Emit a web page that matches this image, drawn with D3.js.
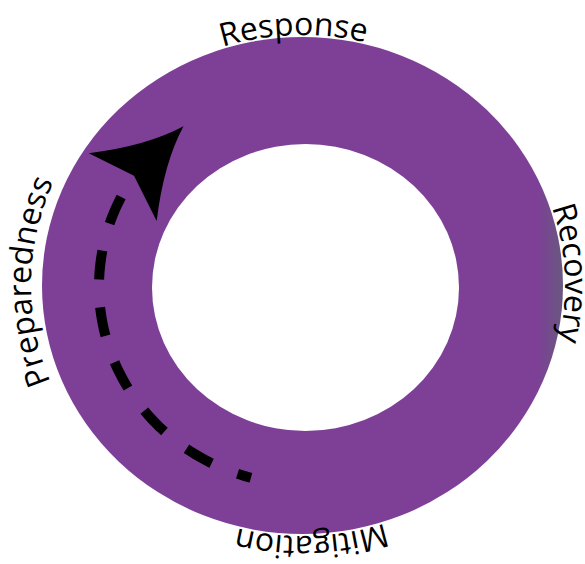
<!DOCTYPE html>
<html>
<head>
<meta charset="utf-8">
<script src="https://cdn.jsdelivr.net/npm/d3@7"></script>
<style>
  html, body { margin: 0; padding: 0; background: #fff; overflow: hidden; }
  svg { display: block; }
</style>
</head>
<body>
<script>
// stages of the cycle, clockwise from the top
const stages = ['Response', 'Recovery', 'Mitigation', 'Preparedness'];
// direction of travel shown by the dashed arrow
const arrowStages = ['Mitigation', 'Preparedness'];

// container
const width = 585;
const height = 564;

let svg = d3.select('body')
    .append('svg')
    .attr('width', width)
    .attr('height', height);

// ring geometry
const outer = { cx: 302.5, cy: 285.5, rx: 260.5, ry: 248.5 };
const inner = { cx: 305.5, cy: 287.5, rx: 153.5, ry: 143.5 };
const mid = { cx: 304, cy: 286.5, rx: 205, ry: 198 };
const purple = '#7e3f97';

// angle (deg, clockwise from 3 o'clock) for each stage
let angle = d3.scalePoint()
    .domain(stages)
    .range([270, 540]);
// small hand placement tweaks of the labels
const labelNudge = [-2, -2.6, -2, 0.8];
const labelGap = [2, 2, 2, 11];

const rad = d => d * Math.PI / 180;
const onEllipse = (e, t, off = 0) => [
    e.cx + (e.rx + off) * Math.cos(rad(t)),
    e.cy + (e.ry + off) * Math.sin(rad(t))
];
const arcLine = d3.line();
function ellipseArc(e, t0, t1, off) {
    return arcLine(d3.range(t0, t1 + 0.001, 1).map(t => onEllipse(e, t, off)));
}

let defs = svg.append('defs');
let grad = defs.append('linearGradient')
    .attr('id', 'ringFill')
    .attr('x1', '0%').attr('x2', '100%')
    .attr('y1', '0%').attr('y2', '0%');
grad.append('stop').attr('offset', '0%').attr('stop-color', purple);
grad.append('stop').attr('offset', '95%').attr('stop-color', purple);
grad.append('stop').attr('offset', '100%').attr('stop-color', '#67597f');

// ring
svg.append('ellipse')
    .attr('cx', outer.cx).attr('cy', outer.cy)
    .attr('rx', outer.rx).attr('ry', outer.ry)
    .attr('fill', 'url(#ringFill)');

svg.append('ellipse')
    .attr('cx', inner.cx).attr('cy', inner.cy)
    .attr('rx', inner.rx).attr('ry', inner.ry)
    .attr('fill', '#fff');

// labels along the outside of the ring
let labelGroup = svg.append('g').classed('labels', true);

labelGroup.selectAll('path')
    .data(stages)
    .enter()
    .append('path')
    .attr('id', (d, i) => 'lbl' + i)
    .attr('fill', 'none')
    .attr('d', (d, i) => {
        const t = angle(d) + labelNudge[i];
        return ellipseArc(outer, t - 80, t + 80, labelGap[i]);
    });

labelGroup.selectAll('text')
    .data(stages)
    .enter()
    .append('text')
    .style('font-family', '"Open Sans", sans-serif')
    .style('font-size', '32px')
    .attr('fill', '#000')
    .append('textPath')
    .attr('href', (d, i) => '#lbl' + i)
    .attr('startOffset', '50%')
    .attr('text-anchor', 'middle')
    .text(d => d);

// dashed arrow
const tStart = angle(arrowStages[0]) - 360 + 15;
const tEnd = angle(arrowStages[1]) - 360 + 34;
const tTip = tEnd + 20;

svg.append('path')
    .attr('d', ellipseArc(mid, tStart, tEnd, 0))
    .attr('fill', 'none')
    .attr('stroke', '#000')
    .attr('stroke-width', 10)
    .attr('stroke-dasharray', '29 28')
    .attr('stroke-dashoffset', 15);

const notch = onEllipse(mid, tEnd);
const tip = onEllipse(mid, tTip);
const dir = Math.atan2(tip[1] - notch[1], tip[0] - notch[0]) * 180 / Math.PI;

let head = d3.path();
head.moveTo(0, 0);
head.quadraticCurveTo(-40, -12, -86, -48);
head.lineTo(-70, 0);
head.lineTo(-86, 48);
head.quadraticCurveTo(-40, 12, 0, 0);
head.closePath();

svg.append('path')
    .attr('d', head.toString())
    .attr('fill', '#000')
    .attr('transform', `translate(${tip[0]},${tip[1]}) rotate(${dir})`);
</script>
</body>
</html>
